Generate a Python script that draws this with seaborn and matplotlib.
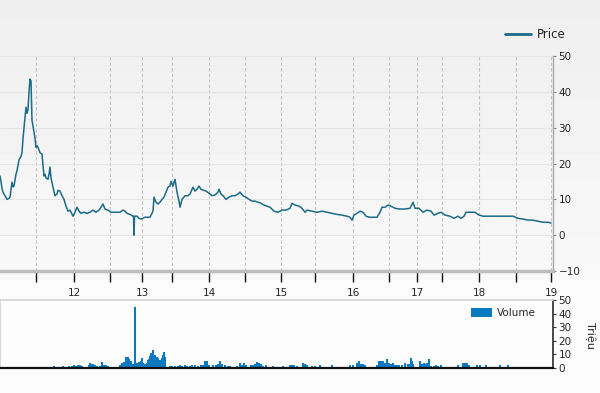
import numpy as np
import matplotlib
matplotlib.use("Agg")
import matplotlib.pyplot as plt
import seaborn as sns

# session index (chart position) and close price
price_x = [0, 1, 2, 3, 5, 7, 9, 10, 12, 13, 14, 16, 17, 19, 21, 22, 23, 24, 25, 26,
           27, 28, 29, 30, 31, 32, 33, 35, 36, 37, 38, 40, 42, 44, 45, 46, 48, 49, 50, 51,
           53, 55, 57, 58, 60, 62, 64, 66, 68, 70, 71, 73, 75, 77, 79, 81, 84, 87, 90, 93,
           96, 99, 101, 103, 105, 108, 111, 114, 117, 120, 123, 125, 127, 130, 133, 133.5, 134, 134.5, 137, 139,
           141, 145, 150, 153, 154, 156, 158, 160, 162, 164, 166, 168, 170, 171, 173, 175, 177, 179, 180, 182,
           185, 188, 190, 193, 195, 197, 199, 201, 203, 206, 209, 212, 215, 218, 219, 221, 223, 226, 229, 232,
           235, 238, 240, 243, 246, 249, 252, 255, 258, 261, 264, 267, 270, 274, 278, 282, 286, 290, 292, 295,
           299, 302, 305, 307, 312, 317, 322, 327, 332, 337, 342, 347, 350, 352, 354, 357, 360, 363, 366, 369,
           373, 377, 380, 382, 385, 388, 391, 395, 400, 405, 410, 413, 415, 419, 423, 427, 431, 434, 438, 441,
           445, 450, 454, 458, 461, 464, 466, 470, 475, 479, 483, 488, 493, 498, 503, 508, 513, 518, 523, 528,
           533, 538, 543, 548, 551]
price = [16.5, 15, 13, 12, 11, 10, 10.3, 10.6, 14.8, 13.5, 13.7, 17, 18, 21, 22, 23, 27, 30, 33, 35.7,
         34, 35, 40, 43.6, 43, 32, 30.5, 27, 24.5, 25, 24.5, 23, 22.6, 16.5, 17, 16, 15.6, 17, 19, 16,
         13.4, 11, 11.5, 12.5, 12.3, 11, 10, 8.1, 6.7, 7, 6.4, 5.3, 6.4, 7.8, 6.7, 6.1, 6.4, 6.1, 6.4, 7,
         6.4, 7, 7.8, 8.7, 7.3, 7, 6.4, 6.4, 6.4, 6.4, 7, 6.7, 6.1, 5.8, 5.3, 5.3, 0, 5.3, 5.3, 4.7,
         4.5, 5, 5, 6.7, 10.6, 9.2, 8.7, 9.2, 10, 10.6, 12, 13.4, 13.7, 15, 13.7, 15.6, 12, 9.5, 7.8, 10,
         11, 11, 11.5, 13.4, 12.3, 12.8, 13.7, 12.8, 12.6, 12.3, 11.7, 11, 11.2, 12, 12.8, 11.5, 11, 10, 10.6, 11,
         11, 11.5, 12, 11, 10.6, 10, 9.5, 9.5, 9.2, 8.9, 8.4, 8.1, 7.8, 6.7, 6.4, 7, 7, 7.5, 8.9, 8.4,
         8.1, 7.5, 6.4, 7, 6.7, 6.4, 6.7, 6.4, 6.1, 5.8, 5.6, 5.3, 5, 4.2, 5.6, 6.1, 6.7, 6.4, 5.3, 5,
         5, 5, 6.4, 7.8, 7.8, 8.4, 8.1, 7.5, 7.3, 7.3, 7.5, 9.2, 7.5, 7.5, 6.4, 7, 6.7, 5.6, 6.1, 6.4,
         5.6, 5.3, 4.7, 5.3, 4.7, 5.3, 6.4, 6.4, 6.4, 5.6, 5.3, 5.3, 5.3, 5.3, 5.3, 5.3, 5.3, 4.7, 4.5, 4.2,
         4.2, 3.9, 3.6, 3.6, 3.4]

# volume in millions (Triệu)
vol_x = [54, 60, 63, 66, 69, 72, 74, 76, 78, 80, 82, 86, 89, 90, 92, 93, 95, 97, 100, 102,
         104, 106, 108, 110, 115, 120, 122, 124, 126, 127, 128, 129, 131, 133, 135, 136, 137, 139, 141, 142,
         143, 145, 147, 148, 149, 150, 151, 152, 153, 154, 155, 156, 157, 158, 159, 160, 161, 162, 163, 164,
         165, 170, 172, 175, 178, 180, 182, 185, 187, 190, 192, 195, 198, 201, 203, 205, 207, 209, 213, 216,
         218, 220, 222, 225, 228, 230, 233, 237, 240, 242, 244, 246, 251, 253, 255, 257, 259, 261, 263, 266,
         273, 283, 290, 292, 294, 297, 303, 305, 307, 312, 315, 320, 332, 350, 353, 357, 359, 361, 363, 365,
         377, 379, 381, 383, 385, 387, 389, 391, 393, 395, 397, 399, 402, 405, 408, 410, 411, 412, 413, 420,
         422, 424, 425, 427, 429, 431, 434, 436, 438, 441, 458, 463, 465, 467, 469, 477, 480, 486, 500, 508]
vol = [1.7, 0.8, 1.5, 0.8, 1.5, 1.2, 2.4, 1.8, 2.4, 2.0, 1.5, 0.8, 2.5, 3.9, 3.0, 3.2, 2.5, 1.5, 1.2, 4.4,
       2.0, 2.4, 1.8, 0.8, 0.6, 2.0, 3.5, 4.6, 8.3, 6.0, 8.3, 6.8, 5.0, 3.0, 45, 4.0, 3.5, 4.5, 5.5, 7.0,
       4.0, 3.0, 3.5, 5.9, 6.5, 9.0, 11, 10, 13, 9.0, 9.4, 8.0, 8.3, 7.0, 5.9, 6.0, 6.0, 7.0, 9.4, 12,
       8, 1.2, 1.5, 1.8, 1.5, 2.0, 1.5, 2.0, 1.5, 1.8, 2.5, 2.0, 1.5, 2.0, 2.5, 5.0, 5.0, 2.0, 2.0, 2.5,
       3.0, 5.0, 3.0, 2.0, 1.5, 1.5, 1.0, 1.5, 3.5, 2.5, 3.5, 2.0, 2.0, 2.5, 3.0, 4.5, 3.5, 3.0, 1.5, 2.0,
       1.5, 1.5, 2.5, 2.5, 2.5, 1.5, 3.5, 3.0, 2.0, 1.5, 1.5, 2.5, 2.5, 2.0, 2.0, 3.5, 5.0, 3.0, 3.0, 2.0,
       2.5, 5.0, 5.0, 5.0, 4.0, 6.5, 3.5, 3.0, 4.0, 2.5, 2.0, 2.0, 2.5, 3.5, 3.0, 3.0, 7.6, 5.0, 3.0, 5.0,
       3.0, 4.0, 3.0, 4.0, 6.8, 1.5, 1.5, 2.5, 1.5, 2.0, 2.0, 3.5, 3.5, 3.5, 2.0, 2.5, 2.5, 2.5, 2.0, 2.5]

year_ticks = [74, 142, 209, 281, 353, 417, 479, 551]
year_labels = ["12", "13", "14", "15", "16", "17", "18", "19"]
half_ticks = [36, 110, 172, 245, 315, 389, 442, 516]

price_ticks = [-10, 0, 10, 20, 30, 40, 50]
vol_ticks = [0, 10, 20, 30, 40, 50]

LINE = "#1c6b87"
BAR = "#0b79c0"

sns.set_theme(style="white")
plt.rcParams["font.family"] = ["DejaVu Sans"]

fig = plt.figure(figsize=(6, 3.93), dpi=100)

# soft grey gradient behind the price panel
bg = fig.add_axes([0, 0, 1, 1], zorder=0)
shade = np.concatenate([np.linspace(0.935, 0.975, 280), np.full(113, 0.985)])
bg.imshow(shade[:, None], aspect="auto", cmap="gray", vmin=0, vmax=1, extent=[0, 1, 0, 1])
bg.set_axis_off()

ax = fig.add_axes([0, 0.3104, 0.9217, 0.5471], zorder=2)
ax.set_facecolor("none")
sns.lineplot(x=price_x, y=price, ax=ax, color=LINE, linewidth=1.1, label="Price")
ax.set_xlim(0, 553)
ax.set_ylim(-10, 50)

# every half-year gets a tick and a dashed guide, only year starts get a label
all_ticks = sorted(year_ticks + half_ticks)
tick_text = dict(zip(year_ticks, year_labels))
ax.set_xticks(all_ticks)
ax.set_xticklabels([tick_text.get(t, "") for t in all_ticks])
ax.set_yticks(price_ticks)
ax.yaxis.tick_right()
ax.tick_params(axis="x", which="major", direction="out", length=8, width=1, color="#111111",
               labelsize=7.5, pad=4, bottom=True)
ax.tick_params(axis="y", length=2, width=0.8, color="#888888", labelsize=7.5, pad=2, right=True)
ax.grid(axis="x", color="#c4c4c4", linestyle=(0, (3, 2)), linewidth=0.8)
ax.grid(axis="y", color="#e6e6e6", linewidth=0.8)
for side in ["top", "left"]:
    ax.spines[side].set_visible(False)
ax.spines["bottom"].set_color("#bdbdbd")
ax.spines["bottom"].set_linewidth(2.5)
ax.spines["right"].set_color("#a8a8a8")
ax.spines["right"].set_linewidth(1)
ax.set_xlabel("")
ax.legend(loc="center right", bbox_to_anchor=(576 / 600, 1 - 35 / 393), bbox_transform=fig.transFigure,
          frameon=False, fontsize=8.5, handlelength=2.2, handletextpad=0.5)
for t in ax.get_legend().get_texts():
    t.set_color("#222222")
ax.get_legend().get_lines()[0].set_linewidth(2)

axv = fig.add_axes([0, 0.0636, 0.9217, 0.173], zorder=2)
axv.set_facecolor("#fdfdfd")
axv.bar(vol_x, vol, width=1.6, color=BAR, linewidth=0, label="Volume")
axv.set_xlim(0, 553)
axv.set_ylim(0, 50)
axv.set_xticks([])
axv.set_yticks(vol_ticks)
axv.yaxis.tick_right()
axv.tick_params(axis="y", length=2, width=0.8, color="#333333", labelsize=7.5, pad=2, right=True)
axv.spines["top"].set_color("#d4d4d4")
axv.spines["left"].set_color("#d4d4d4")
axv.spines["right"].set_color("#333333")
axv.spines["bottom"].set_color("#111111")
axv.spines["bottom"].set_linewidth(1.6)
axv.legend(loc="center right", bbox_to_anchor=(0.985, 0.81), frameon=False, fontsize=7.5,
           handlelength=2.0, handleheight=0.9, handletextpad=0.4)

fig.text(590 / 600, 1 - 335 / 393, "Triệu", rotation=270, ha="center", va="center",
         fontsize=8, color="#222222")

fig.savefig("out.png", dpi=100)
